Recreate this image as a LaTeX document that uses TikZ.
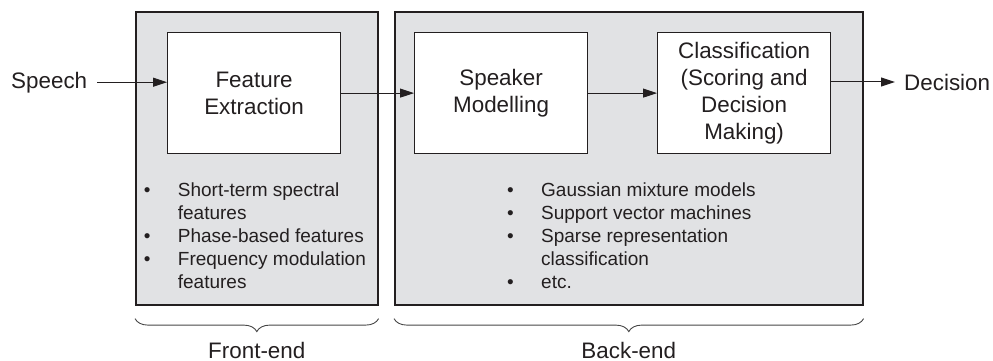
\documentclass[tikz,border=0pt]{standalone}
\usepackage{fontspec}
\setmainfont{Liberation Sans}
\usetikzlibrary{arrows.meta,decorations.pathreplacing,calc}

\definecolor{panelgray}{RGB}{225,226,228}
\definecolor{ink}{RGB}{35,31,32}
\definecolor{bracegray}{RGB}{70,70,70}

\newcommand\blockfont{\fontsize{22.4pt}{27pt}\selectfont}
\newcommand\itemfont{\fontsize{19pt}{23pt}\selectfont}
\newcommand\bul{\makebox[34pt][l]{\textbullet}}
\newcommand\cont{\hspace*{34pt}}

\begin{document}
\begin{tikzpicture}[x=1pt,y=-1pt,
  panel/.style={draw=ink, line width=1.6pt, fill=panelgray, inner sep=0pt,
    anchor=north west, minimum height=293pt},
  block/.style={draw=ink, line width=1.2pt, fill=white, inner sep=0pt,
    minimum width=173pt, minimum height=121pt, anchor=north west,
    align=center, font=\blockfont, text=ink,
    execute at begin node={\setlength{\baselineskip}{27pt}}},
  lbl/.style={inner sep=0pt, font=\blockfont, text=ink},
  items/.style={inner sep=0pt, align=left, font=\itemfont, text=ink,
    anchor=north west, execute at begin node={\setlength{\baselineskip}{23pt}}},
  arr/.style={draw=ink, line width=1pt, -{Triangle[length=14pt,width=9pt]}},
  curly/.style={draw=bracegray, line width=0.9pt,
    decorate, decoration={brace, mirror, amplitude=13pt}},
]
\useasboundingbox (0,0) rectangle (993,360);

% grey panels for the two stages
\node[panel, minimum width=242pt] (front) at (135,11) {};
\node[panel, minimum width=468pt] (back) at (394,11) {};

% processing blocks
\node[block] (fe) at (167,32) {Feature\\Extraction};
\node[block] (sm) at (414,32) {Speaker\\Modelling};
\node[block] (cl) at (657,32) {Classification\\(Scoring and\\Decision\\Making)};

% input and output
\node[lbl, anchor=base west] (speech) at (11,88) {Speech};
\node[lbl, anchor=base west] (decision) at (904,90) {Decision};

% signal flow
\draw[arr] ([xshift=10pt]speech.east) -- (speech.east -| fe.west);
\draw[arr] (fe.east) -- (sm.west);
\draw[arr] (sm.east) -- (cl.west);
\draw[arr] (cl.east |- decision.west) -- ([xshift=-9pt]decision.west);

% example techniques in each stage
\node[items] (feitems) at (143.7,183)
  {\bul Short-term spectral\\\cont features\\\bul Phase-based features\\%
   \bul Frequency modulation\\\cont features};
\node[items] (beitems) at (507,183)
  {\bul Gaussian mixture models\\\bul Support vector machines\\%
   \bul Sparse representation\\\cont classification\\\bul etc.};

% braces and stage names
\draw[curly] ([yshift=-13pt]front.south west) -- ([yshift=-13pt]front.south east);
\draw[curly] ([yshift=-13pt]back.south west) -- ([yshift=-13pt]back.south east);
\node[lbl, anchor=base] (frontname) at ($(front.south)+(0,53)$) {Front-end};
\node[lbl, anchor=base] (backname) at ($(back.south)+(0,53)$) {Back-end};
\end{tikzpicture}
\end{document}
